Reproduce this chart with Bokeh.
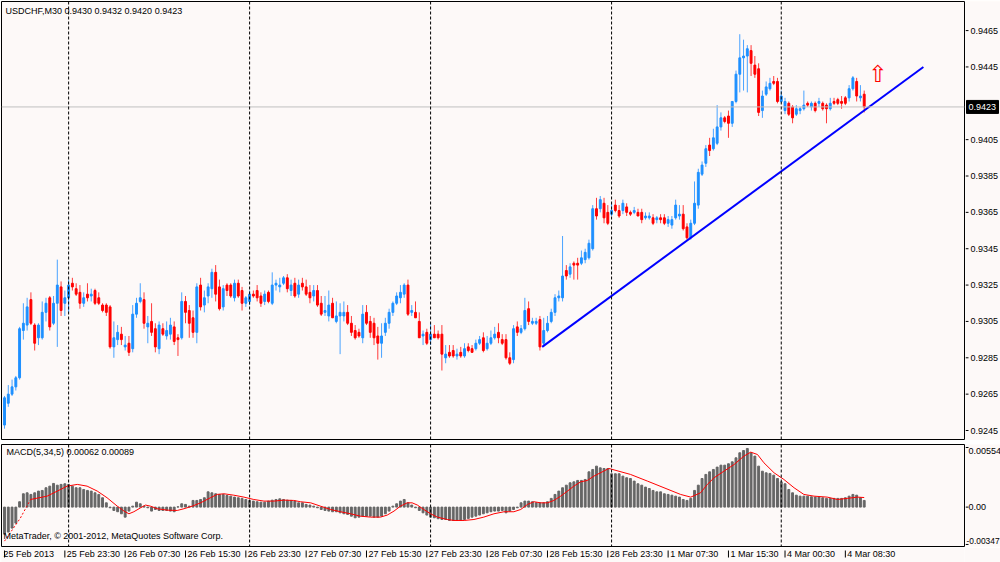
from bokeh.plotting import figure
from bokeh.models import Range1d, Span, Label, ColumnDataSource
from bokeh.layouts import column, row
from bokeh.embed import file_html
from bokeh.resources import INLINE
from bokeh.core.properties import value

# ---------------- data (USDCHF, M30) ----------------
opens = [
    0.9248, 0.9260, 0.9265, 0.9269, 0.9274, 0.9300, 0.9303, 0.9317, 0.9303, 0.9296,
    0.9296, 0.9310, 0.9318, 0.9304, 0.9315, 0.9324, 0.9315, 0.9318, 0.9326, 0.9323,
    0.9321, 0.9315, 0.9320, 0.9319, 0.9322, 0.9318, 0.9314, 0.9314, 0.9313, 0.9291,
    0.9295, 0.9298, 0.9291, 0.9293, 0.9290, 0.9309, 0.9316, 0.9317, 0.9302, 0.9305,
    0.9301, 0.9290, 0.9301, 0.9297, 0.9298, 0.9302, 0.9296, 0.9296, 0.9316, 0.9311,
    0.9307, 0.9299, 0.9325, 0.9314, 0.9319, 0.9323, 0.9332, 0.9324, 0.9313, 0.9325,
    0.9325, 0.9318, 0.9326, 0.9322, 0.9315, 0.9316, 0.9320, 0.9322, 0.9319, 0.9316,
    0.9321, 0.9315, 0.9325, 0.9324, 0.9326, 0.9329, 0.9322, 0.9326, 0.9320, 0.9326,
    0.9324, 0.9321, 0.9319, 0.9322, 0.9315, 0.9310, 0.9308, 0.9315, 0.9305, 0.9308,
    0.9308, 0.9310, 0.9304, 0.9300, 0.9299, 0.9296, 0.9310, 0.9305, 0.9304, 0.9297,
    0.9293, 0.9299, 0.9304, 0.9310, 0.9315, 0.9318, 0.9320, 0.9325, 0.9310, 0.9310,
    0.9305, 0.9297, 0.9299, 0.9295, 0.9298, 0.9298, 0.9298, 0.9285, 0.9288, 0.9289,
    0.9286, 0.9288, 0.9286, 0.9291, 0.9290, 0.9290, 0.9293, 0.9296, 0.9290, 0.9293,
    0.9296, 0.9299, 0.9295, 0.9295, 0.9285, 0.9284, 0.9302, 0.9299, 0.9301, 0.9312,
    0.9304, 0.9304, 0.9306, 0.9293, 0.9300, 0.9305, 0.9310, 0.9318, 0.9318, 0.9333,
    0.9331, 0.9337, 0.9337, 0.9337, 0.9339, 0.9340, 0.9345, 0.9367, 0.9367, 0.9370,
    0.9365, 0.9364, 0.9369, 0.9366, 0.9366, 0.9368, 0.9365, 0.9365, 0.9365, 0.9365,
    0.9362, 0.9362, 0.9362, 0.9361, 0.9362, 0.9362, 0.9359, 0.9358, 0.9362, 0.9363,
    0.9364, 0.9357, 0.9351, 0.9359, 0.9369, 0.9386, 0.9392, 0.9402, 0.9400, 0.9403,
    0.9412, 0.9417, 0.9418, 0.9414, 0.9426, 0.9441, 0.9450, 0.9451, 0.9454, 0.9446,
    0.9444, 0.9421, 0.9430, 0.9433, 0.9437, 0.9437, 0.9426, 0.9421, 0.9425, 0.9423,
    0.9419, 0.9421, 0.9422, 0.9425, 0.9423, 0.9425, 0.9425, 0.9425, 0.9424, 0.9422,
    0.9426, 0.9427, 0.9426, 0.9428, 0.9428, 0.9433, 0.9437, 0.9428, 0.9430,
]
highs = [
    0.9264, 0.9270, 0.9273, 0.9275, 0.9302, 0.9315, 0.9318, 0.9321, 0.9304, 0.9304,
    0.9316, 0.9318, 0.9319, 0.9319, 0.9339, 0.9327, 0.9322, 0.9328, 0.9329, 0.9326,
    0.9325, 0.9321, 0.9326, 0.9323, 0.9323, 0.9321, 0.9315, 0.9315, 0.9314, 0.9305,
    0.9303, 0.9302, 0.9297, 0.9297, 0.9314, 0.9318, 0.9326, 0.9321, 0.9308, 0.9315,
    0.9304, 0.9305, 0.9304, 0.9305, 0.9307, 0.9305, 0.9298, 0.9321, 0.9319, 0.9314,
    0.9311, 0.9326, 0.9329, 0.9322, 0.9326, 0.9334, 0.9336, 0.9328, 0.9325, 0.9326,
    0.9326, 0.9328, 0.9328, 0.9324, 0.9319, 0.9322, 0.9322, 0.9325, 0.9321, 0.9322,
    0.9322, 0.9332, 0.9328, 0.9329, 0.9330, 0.9331, 0.9328, 0.9329, 0.9328, 0.9329,
    0.9328, 0.9325, 0.9325, 0.9325, 0.9319, 0.9319, 0.9322, 0.9318, 0.9316, 0.9315,
    0.9316, 0.9314, 0.9308, 0.9303, 0.9301, 0.9314, 0.9314, 0.9308, 0.9307, 0.9302,
    0.9304, 0.9307, 0.9312, 0.9316, 0.9321, 0.9325, 0.9326, 0.9328, 0.9314, 0.9316,
    0.9310, 0.9300, 0.9301, 0.9304, 0.9303, 0.9300, 0.9303, 0.9292, 0.9292, 0.9292,
    0.9290, 0.9291, 0.9293, 0.9293, 0.9292, 0.9295, 0.9297, 0.9299, 0.9297, 0.9300,
    0.9302, 0.9304, 0.9298, 0.9298, 0.9288, 0.9303, 0.9305, 0.9303, 0.9318, 0.9316,
    0.9307, 0.9307, 0.9308, 0.9307, 0.9308, 0.9312, 0.9320, 0.9322, 0.9352, 0.9336,
    0.9337, 0.9338, 0.9340, 0.9344, 0.9345, 0.9350, 0.9369, 0.9373, 0.9374, 0.9373,
    0.9369, 0.9370, 0.9372, 0.9369, 0.9372, 0.9370, 0.9366, 0.9368, 0.9367, 0.9367,
    0.9365, 0.9365, 0.9364, 0.9363, 0.9364, 0.9364, 0.9363, 0.9363, 0.9372, 0.9369,
    0.9369, 0.9359, 0.9361, 0.9382, 0.9389, 0.9393, 0.9402, 0.9406, 0.9411, 0.9424,
    0.9420, 0.9418, 0.9421, 0.9424, 0.9443, 0.9463, 0.9460, 0.9457, 0.9457, 0.9451,
    0.9447, 0.9432, 0.9437, 0.9439, 0.9440, 0.9439, 0.9432, 0.9428, 0.9426, 0.9424,
    0.9424, 0.9423, 0.9432, 0.9426, 0.9426, 0.9426, 0.9428, 0.9426, 0.9425, 0.9428,
    0.9428, 0.9428, 0.9429, 0.9429, 0.9435, 0.9440, 0.9439, 0.9435, 0.9432,
]
lows = [
    0.9246, 0.9258, 0.9264, 0.9267, 0.9273, 0.9295, 0.9300, 0.9303, 0.9289, 0.9292,
    0.9295, 0.9305, 0.9300, 0.9303, 0.9291, 0.9308, 0.9308, 0.9310, 0.9322, 0.9319,
    0.9312, 0.9313, 0.9316, 0.9316, 0.9314, 0.9314, 0.9310, 0.9308, 0.9290, 0.9285,
    0.9292, 0.9292, 0.9289, 0.9286, 0.9288, 0.9307, 0.9315, 0.9301, 0.9293, 0.9297,
    0.9288, 0.9287, 0.9297, 0.9295, 0.9295, 0.9292, 0.9286, 0.9295, 0.9304, 0.9296,
    0.9296, 0.9293, 0.9311, 0.9310, 0.9315, 0.9318, 0.9316, 0.9311, 0.9311, 0.9319,
    0.9318, 0.9316, 0.9318, 0.9311, 0.9313, 0.9314, 0.9318, 0.9316, 0.9313, 0.9314,
    0.9315, 0.9314, 0.9322, 0.9321, 0.9325, 0.9321, 0.9319, 0.9318, 0.9318, 0.9322,
    0.9319, 0.9315, 0.9316, 0.9313, 0.9308, 0.9308, 0.9305, 0.9307, 0.9304, 0.9287,
    0.9305, 0.9303, 0.9297, 0.9295, 0.9296, 0.9293, 0.9303, 0.9296, 0.9292, 0.9284,
    0.9285, 0.9297, 0.9301, 0.9308, 0.9314, 0.9315, 0.9318, 0.9308, 0.9308, 0.9307,
    0.9296, 0.9292, 0.9292, 0.9292, 0.9296, 0.9295, 0.9278, 0.9282, 0.9285, 0.9285,
    0.9284, 0.9285, 0.9285, 0.9288, 0.9288, 0.9289, 0.9292, 0.9288, 0.9289, 0.9292,
    0.9295, 0.9293, 0.9292, 0.9284, 0.9281, 0.9282, 0.9297, 0.9298, 0.9300, 0.9303,
    0.9303, 0.9303, 0.9289, 0.9291, 0.9299, 0.9304, 0.9308, 0.9316, 0.9316, 0.9328,
    0.9329, 0.9328, 0.9328, 0.9336, 0.9337, 0.9339, 0.9344, 0.9361, 0.9365, 0.9359,
    0.9358, 0.9363, 0.9365, 0.9362, 0.9364, 0.9363, 0.9363, 0.9364, 0.9363, 0.9359,
    0.9361, 0.9361, 0.9358, 0.9359, 0.9359, 0.9358, 0.9357, 0.9356, 0.9361, 0.9361,
    0.9355, 0.9350, 0.9350, 0.9358, 0.9367, 0.9385, 0.9390, 0.9396, 0.9399, 0.9402,
    0.9410, 0.9414, 0.9406, 0.9412, 0.9425, 0.9431, 0.9432, 0.9431, 0.9440, 0.9439,
    0.9418, 0.9417, 0.9429, 0.9432, 0.9435, 0.9425, 0.9425, 0.9419, 0.9418, 0.9414,
    0.9418, 0.9419, 0.9421, 0.9423, 0.9421, 0.9420, 0.9423, 0.9421, 0.9414, 0.9421,
    0.9424, 0.9424, 0.9422, 0.9424, 0.9426, 0.9432, 0.9426, 0.9426, 0.9420,
]
closes = [
    0.9263, 0.9265, 0.9269, 0.9274, 0.9301, 0.9304, 0.9313, 0.9304, 0.9293, 0.9303,
    0.9310, 0.9315, 0.9302, 0.9315, 0.9325, 0.9311, 0.9318, 0.9325, 0.9324, 0.9320,
    0.9315, 0.9318, 0.9318, 0.9320, 0.9315, 0.9315, 0.9311, 0.9310, 0.9291, 0.9296,
    0.9299, 0.9295, 0.9292, 0.9288, 0.9309, 0.9315, 0.9318, 0.9304, 0.9304, 0.9299,
    0.9291, 0.9303, 0.9298, 0.9300, 0.9303, 0.9294, 0.9295, 0.9316, 0.9310, 0.9304,
    0.9299, 0.9324, 0.9313, 0.9318, 0.9324, 0.9332, 0.9320, 0.9312, 0.9323, 0.9322,
    0.9319, 0.9326, 0.9319, 0.9315, 0.9318, 0.9320, 0.9319, 0.9318, 0.9315, 0.9320,
    0.9316, 0.9325, 0.9326, 0.9325, 0.9329, 0.9323, 0.9325, 0.9319, 0.9325, 0.9324,
    0.9320, 0.9318, 0.9322, 0.9314, 0.9309, 0.9311, 0.9314, 0.9307, 0.9308, 0.9310,
    0.9310, 0.9304, 0.9299, 0.9296, 0.9297, 0.9309, 0.9304, 0.9299, 0.9296, 0.9293,
    0.9297, 0.9304, 0.9310, 0.9315, 0.9319, 0.9321, 0.9325, 0.9309, 0.9311, 0.9307,
    0.9296, 0.9298, 0.9293, 0.9298, 0.9296, 0.9296, 0.9287, 0.9287, 0.9286, 0.9286,
    0.9287, 0.9286, 0.9290, 0.9289, 0.9288, 0.9293, 0.9295, 0.9289, 0.9293, 0.9296,
    0.9298, 0.9296, 0.9293, 0.9285, 0.9282, 0.9301, 0.9299, 0.9301, 0.9311, 0.9305,
    0.9305, 0.9305, 0.9291, 0.9300, 0.9304, 0.9310, 0.9318, 0.9319, 0.9330, 0.9330,
    0.9335, 0.9336, 0.9336, 0.9340, 0.9343, 0.9348, 0.9367, 0.9363, 0.9372, 0.9362,
    0.9359, 0.9366, 0.9366, 0.9363, 0.9370, 0.9365, 0.9364, 0.9366, 0.9363, 0.9361,
    0.9363, 0.9363, 0.9359, 0.9362, 0.9361, 0.9359, 0.9361, 0.9361, 0.9369, 0.9364,
    0.9356, 0.9351, 0.9359, 0.9370, 0.9387, 0.9391, 0.9400, 0.9399, 0.9406, 0.9412,
    0.9417, 0.9415, 0.9414, 0.9426, 0.9441, 0.9450, 0.9451, 0.9455, 0.9447, 0.9441,
    0.9420, 0.9429, 0.9434, 0.9436, 0.9436, 0.9426, 0.9429, 0.9426, 0.9419, 0.9417,
    0.9422, 0.9422, 0.9424, 0.9424, 0.9425, 0.9421, 0.9426, 0.9422, 0.9422, 0.9425,
    0.9425, 0.9425, 0.9425, 0.9425, 0.9433, 0.9439, 0.9429, 0.9429, 0.9423,
]
macd_main = [
    -0.00251, -0.00232, -0.00195, -0.00149, 0.00050, 0.00124, 0.00133, 0.00118, 0.00133, 0.00149,
    0.00155, 0.00180, 0.00195, 0.00220, 0.00204, 0.00211, 0.00217, 0.00211, 0.00195, 0.00180,
    0.00180, 0.00164, 0.00155, 0.00149, 0.00133, 0.00118, 0.00087, 0.00040, -0.00006, -0.00031,
    -0.00043, -0.00062, -0.00093, -0.00037, 0.00009, 0.00046, 0.00031, 0.00009, -0.00006, -0.00037,
    -0.00022, -0.00031, -0.00031, -0.00031, -0.00037, -0.00043, 0.00003, 0.00031, 0.00025, 0.00009,
    0.00062, 0.00062, 0.00071, 0.00087, 0.00142, 0.00133, 0.00124, 0.00118, 0.00118, 0.00108,
    0.00102, 0.00093, 0.00087, 0.00081, 0.00071, 0.00062, 0.00056, 0.00050, 0.00046, 0.00046,
    0.00056, 0.00065, 0.00071, 0.00077, 0.00071, 0.00065, 0.00062, 0.00056, 0.00040, 0.00040,
    0.00025, 0.00019, 0.00009, -0.00006, -0.00022, -0.00031, -0.00037, -0.00043, -0.00043, -0.00053,
    -0.00062, -0.00068, -0.00084, -0.00099, -0.00093, -0.00084, -0.00084, -0.00084, -0.00093, -0.00093,
    -0.00084, -0.00062, -0.00037, 0.00009, 0.00031, 0.00056, 0.00071, 0.00040, 0.00019, -0.00006,
    -0.00031, -0.00053, -0.00074, -0.00093, -0.00099, -0.00108, -0.00115, -0.00115, -0.00124, -0.00124,
    -0.00124, -0.00124, -0.00115, -0.00105, -0.00093, -0.00084, -0.00074, -0.00062, -0.00053, -0.00043,
    -0.00037, -0.00037, -0.00031, -0.00053, -0.00037, -0.00022, -0.00006, 0.00040, 0.00056, 0.00056,
    0.00050, 0.00040, 0.00040, 0.00040, 0.00050, 0.00081, 0.00118, 0.00149, 0.00180, 0.00204,
    0.00226, 0.00235, 0.00248, 0.00248, 0.00257, 0.00328, 0.00350, 0.00381, 0.00365, 0.00359,
    0.00359, 0.00310, 0.00310, 0.00310, 0.00288, 0.00273, 0.00266, 0.00242, 0.00217, 0.00204,
    0.00186, 0.00173, 0.00155, 0.00142, 0.00142, 0.00124, 0.00118, 0.00111, 0.00102, 0.00093,
    0.00071, 0.00062, 0.00081, 0.00155, 0.00204, 0.00266, 0.00304, 0.00328, 0.00350, 0.00372,
    0.00390, 0.00390, 0.00403, 0.00421, 0.00458, 0.00505, 0.00526, 0.00545, 0.00505, 0.00474,
    0.00381, 0.00334, 0.00319, 0.00313, 0.00297, 0.00266, 0.00235, 0.00217, 0.00164, 0.00133,
    0.00111, 0.00102, 0.00102, 0.00102, 0.00096, 0.00093, 0.00093, 0.00087, 0.00081, 0.00081,
    0.00081, 0.00081, 0.00081, 0.00087, 0.00102, 0.00118, 0.00111, 0.00087, 0.00062,
]
# signal line, read at bar positions
signal_bar = [
    0, 4.2, 6.9, 11.3, 14, 16.6, 19.3, 21.9, 24.6, 27.2, 29.9, 31.7, 33, 34.3, 36.1, 37.4,
    38.7, 40.5, 43.1, 45.8, 47.6, 49.8, 52, 54.6, 56.4, 58.2, 60.8, 63.5, 66.1, 68.8, 71.4,
    74.1, 76.7, 78.5, 81.2, 83.8, 86.5, 89.1, 91.8, 94.4, 97.1, 99.7, 101.5, 103.3, 105,
    106.8, 108.1, 109.5, 111.2, 113, 114.8, 117.4, 119.2, 121.9, 124.5, 127.1, 129.8, 132.5,
    135.1, 136.9, 138.7, 140.4, 142.2, 144, 145.7, 147.5, 149.3, 151, 152.8, 154.6, 156.3,
    160.3, 166, 170.5, 174.9, 179.3, 182, 184.6, 186.4, 188.2, 190.8, 193.5, 196.1, 197.9,
    199.7, 201.4, 204.1, 206.7, 209.4, 212, 214.7, 218.2, 220.9, 223.5, 226.2, 228,
]
signal_val = [
    -0.00316, -0.00102, 0.00071, 0.00102, 0.00149, 0.00195, 0.00211, 0.00195, 0.00149, 0.00087,
    0.00009, -0.00037, -0.00062, -0.00043, -0.00006, 0.00019, 0.00009, -0.00015, -0.00028, -0.00031,
    -0.00015, 0.00009, 0.00040, 0.00087, 0.00118, 0.00124, 0.00111, 0.00093, 0.00071, 0.00056,
    0.00056, 0.00065, 0.00062, 0.00050, 0.00040, 0.00009, -0.00022, -0.00043, -0.00062, -0.00084,
    -0.00093, -0.00093, -0.00074, -0.00037, 0.00009, 0.00040, 0.00040, 0.00019, -0.00022, -0.00062,
    -0.00093, -0.00115, -0.00124, -0.00124, -0.00115, -0.00093, -0.00062, -0.00043, -0.00043, -0.00022,
    0.00025, 0.00050, 0.00040, 0.00040, 0.00062, 0.00102, 0.00149, 0.00195, 0.00235, 0.00248,
    0.00288, 0.00359, 0.00304, 0.00242, 0.00180, 0.00118, 0.00093, 0.00133, 0.00211, 0.00273,
    0.00334, 0.00396, 0.00474, 0.00511, 0.00489, 0.00412, 0.00319, 0.00257, 0.00180, 0.00118,
    0.00102, 0.00093, 0.00071, 0.00081, 0.00093, 0.00089,
]
trend_bar = [142.6, 243.7]
trend_price = [0.9291, 0.9445]
arrow_bar = [231.6]
arrow_price = [0.9441]
last_price = 0.9423
day_bars = [17, 65, 113, 161, 206]
date_bars = [0, 16, 32, 48, 64, 80, 96, 112, 128, 144, 160, 176, 192, 207, 223]
date_labels = ["25 Feb 2013", "25 Feb 23:30", "26 Feb 07:30", "26 Feb 15:30",
               "26 Feb 23:30", "27 Feb 07:30", "27 Feb 15:30", "27 Feb 23:30",
               "28 Feb 07:30", "28 Feb 15:30", "28 Feb 23:30", "1 Mar 07:30",
               "1 Mar 15:30", "4 Mar 00:30", "4 Mar 08:30"]
price_ticks = [0.9245, 0.9265, 0.9285, 0.9305, 0.9325, 0.9345, 0.9365,
               0.9385, 0.9405, 0.9445, 0.9465]
macd_top, macd_zero, macd_bottom = 0.00554, 0.0, -0.00347
macd_top_label, macd_zero_label, macd_bottom_label = "0.00554", "0.00", "-0.00347"

# ---------------- styling ----------------
BG = "#fdf9f8"
FONT = value("Liberation Sans")
FS = "9px"
xr = Range1d(-0.8, 254.6)
yr_main = Range1d(0.92395, 0.94810)
yr_macd = Range1d(-0.00366, 0.00582)


def panel(width, height, x_range, y_range, left, right, top, bottom, outline="black",
          bg=BG):
    f = figure(width=width, height=height, x_range=x_range, y_range=y_range,
               output_backend="svg", toolbar_location=None,
               x_axis_location=None, y_axis_location=None,
               background_fill_color=bg, border_fill_color=BG,
               outline_line_color=outline,
               min_border_left=left, min_border_right=right,
               min_border_top=top, min_border_bottom=bottom)
    f.grid.grid_line_color = None
    return f


up = [c >= o for o, c in zip(opens, closes)]
src = ColumnDataSource(dict(
    x=list(range(len(closes))), h=highs, l=lows,
    top=[max(o, c) for o, c in zip(opens, closes)],
    bot=[min(o, c) for o, c in zip(opens, closes)],
    body=["#1e90ff" if u else "#ff0000" for u in up],
    wick=["#4aa3ff" if u else "#ff3b3b" for u in up],
))

# ---- main price panel ----
main = panel(965, 440, xr, yr_main, 1, 1, 1, 0)
main.add_layout(Span(location=last_price, dimension="width",
                     line_color="#c0c0c0", line_width=1))
for b in day_bars:
    main.add_layout(Span(location=b, dimension="height", line_color="black",
                         line_width=1, line_dash="3 2"))
main.segment(x0="x", y0="h", x1="x", y1="l", line_color="wick",
             line_width=1, source=src)
main.vbar(x="x", width=0.5, top="top", bottom="bot", fill_color="body",
          line_color="body", line_width=1, source=src)
main.line(trend_bar, trend_price, line_color="#0000ff", line_width=2)
main.text(x=arrow_bar, y=arrow_price, text=["⇧"], text_color="#ff0000",
          text_font=value("DejaVu Sans"), text_font_size="23px",
          text_align="center", text_baseline="middle")
main.add_layout(Label(x=0.27, y=0.9476, text="USDCHF,M30 0.9430 0.9432 0.9420 0.9423",
                      text_baseline="middle", text_align="left", text_color="black",
                      text_font="Liberation Sans", text_font_size=FS))

# ---- price scale strip ----
pstrip = panel(35, 440, Range1d(0, 35), yr_main, 0, 0, 1, 0, outline=None)
pstrip.segment(x0=0, y0=price_ticks, x1=3, y1=price_ticks, line_color="black")
pstrip.text(x=5, y=price_ticks, text=[f"{t:.4f}" for t in price_ticks],
            text_font=FONT, text_font_size=FS, text_color="black",
            text_align="left", text_baseline="middle")
pstrip.rect(x=17, y=last_price, width=32, height=13, width_units="screen",
            height_units="screen", fill_color="black", line_color="black")
pstrip.text(x=3, y=last_price, text=[f"{last_price:.4f}"], text_font=FONT,
            text_font_size=FS, text_color="white", text_align="left",
            text_baseline="middle")

# ---- separator ----
sep = panel(1000, 4, Range1d(0, 1), Range1d(0, 1), 0, 35, 0, 0, outline=None,
            bg="#8e8e8e")

# ---- MACD panel ----
macd = panel(965, 103, xr, yr_macd, 1, 1, 0, 1)
for b in day_bars:
    macd.add_layout(Span(location=b, dimension="height", line_color="black",
                         line_width=1, line_dash="3 2"))
macd.vbar(x=list(range(len(macd_main))), top=macd_main, bottom=0, width=0.5,
          fill_color="#666666", line_color="#666666", line_width=1)
macd.line(signal_bar[:3], signal_val[:3], line_color="#ff0000", line_width=1,
          line_dash="2 2")
macd.line(signal_bar[2:], signal_val[2:], line_color="#ff0000", line_width=1)
macd.add_layout(Label(x=0.53, y=0.00510, text="MACD(5,34,5) 0.00062 0.00089",
                      text_baseline="middle", text_align="left", text_color="black",
                      text_font="Liberation Sans", text_font_size=FS))
macd.add_layout(Label(x=-0.27, y=-0.00273,
                      text="MetaTrader, © 2001-2012, MetaQuotes Software Corp.",
                      text_baseline="middle", text_align="left", text_color="black",
                      text_font="Liberation Sans", text_font_size=FS))

# ---- MACD scale strip ----
mstrip = panel(35, 103, Range1d(0, 35), yr_macd, 0, 0, 0, 1, outline=None)
mstrip.segment(x0=0, y0=[macd_bottom, macd_zero, macd_top], x1=3,
               y1=[macd_bottom, macd_zero, macd_top], line_color="black")
mstrip.text(x=3, y=[macd_top], text=[macd_top_label], text_font=FONT,
            text_font_size=FS, text_color="black", text_align="left",
            text_baseline="top")
mstrip.text(x=3, y=[macd_zero], text=[macd_zero_label], text_font=FONT,
            text_font_size=FS, text_color="black", text_align="left",
            text_baseline="middle")
mstrip.text(x=1, y=[macd_bottom], text=[macd_bottom_label], text_font=FONT,
            text_font_size="8.4px", text_color="black", text_align="left",
            text_baseline="bottom")

# ---- time scale strip ----
tstrip = panel(1000, 15, xr, Range1d(0, 15), 1, 36, 0, 0, outline=None)
tstrip.segment(x0=date_bars, y0=12, x1=date_bars, y1=5, line_color="black")
tstrip.text(x=date_bars, y=14, text=date_labels, text_font=FONT,
            text_font_size=FS, text_color="black", text_align="left",
            text_baseline="top", x_offset=[-1] + [2] * (len(date_bars) - 1))

layout = column(row(main, pstrip, spacing=0), sep, row(macd, mstrip, spacing=0),
                tstrip, spacing=0)
open("out.html", "w").write(file_html(layout, INLINE))
